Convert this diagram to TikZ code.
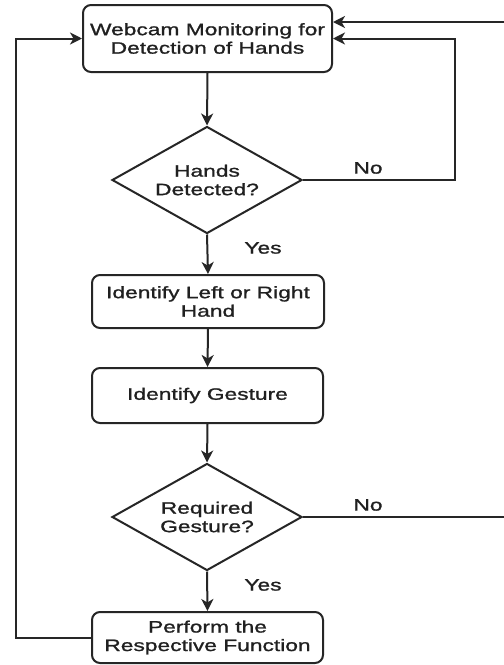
\documentclass[tikz,border=0pt]{standalone}
\usepackage{fontspec}
\setmainfont{Liberation Sans}[FakeStretch=1.38, FakeBold=1.2]
\usetikzlibrary{shapes.geometric,arrows.meta}
\definecolor{linec}{HTML}{262626}
\definecolor{textc}{HTML}{202020}
\tikzset{
  stepbox/.style={draw=linec, line width=2pt, rounded corners=8pt, align=center,
    inner sep=0pt, text=textc, font=\fontsize{16.5}{18.5}\selectfont},
  decision/.style={draw=linec, line width=2pt, diamond, aspect=1.78, inner sep=0pt,
    minimum width=190pt, minimum height=107pt, align=center, text=textc,
    font=\fontsize{16.5}{18.5}\selectfont},
  conn/.style={draw=linec, line width=2pt},
  arr/.style={conn, -{Stealth[length=12pt,width=12pt,inset=3.5pt]}},
  lbl/.style={text=textc, font=\fontsize{16.5}{18.5}\selectfont, inner sep=0pt}
}
\begin{document}
\begin{tikzpicture}[x=1pt,y=-1pt]
\useasboundingbox (0,0) rectangle (504,665);
\clip (0,0) rectangle (504,665);
\fill[white] (0,0) rectangle (504,665);

\node[stepbox, minimum width=249pt, minimum height=67pt] (b1) at (207.5,38.5) {Webcam Monitoring for\\Detection of Hands};
\node[decision] (d1) at (207,180) {Hands\\Detected?};
\node[stepbox, minimum width=232pt, minimum height=53pt] (b2) at (208,301.5) {Identify Left or Right\\Hand};
\node[stepbox, minimum width=231pt, minimum height=55pt] (b3) at (207.5,395.5) {Identify Gesture};
\node[decision] (d2) at (207,517) {Required\\Gesture?};
\node[stepbox, minimum width=231pt, minimum height=51pt] (b5) at (207.5,637.5) {Perform the\\Respective Function};

\coordinate (r1) at (455,180);
\coordinate (r1t) at (455,38.5);
\coordinate (r2) at (512,517);
\coordinate (r2t) at (512,22);
\coordinate (l1) at (16,637.5);
\coordinate (l1t) at (16,38.5);

\draw[arr] (b1.south) -- (d1.north);
\draw[arr] (d1.south) -- (b2.north);
\draw[arr] (b2.south) -- (b3.north);
\draw[arr] (b3.south) -- (d2.north);
\draw[arr] (d2.south) -- (b5.north);

\draw[arr] (d1.east) -- (r1) -- (r1t) -- (b1.east);
\draw[arr] (d2.east) -- (r2) -- (r2t) -- (b1.east |- r2t);
\draw[arr] (b5.west) -- (l1) -- (l1t) -- (b1.west);

\node[lbl] (no1) at (368,168) {No};
\node[lbl] (yes1) at (263,248) {Yes};
\node[lbl] (no2) at (368,505) {No};
\node[lbl] (yes2) at (263,585) {Yes};
\end{tikzpicture}
\end{document}
